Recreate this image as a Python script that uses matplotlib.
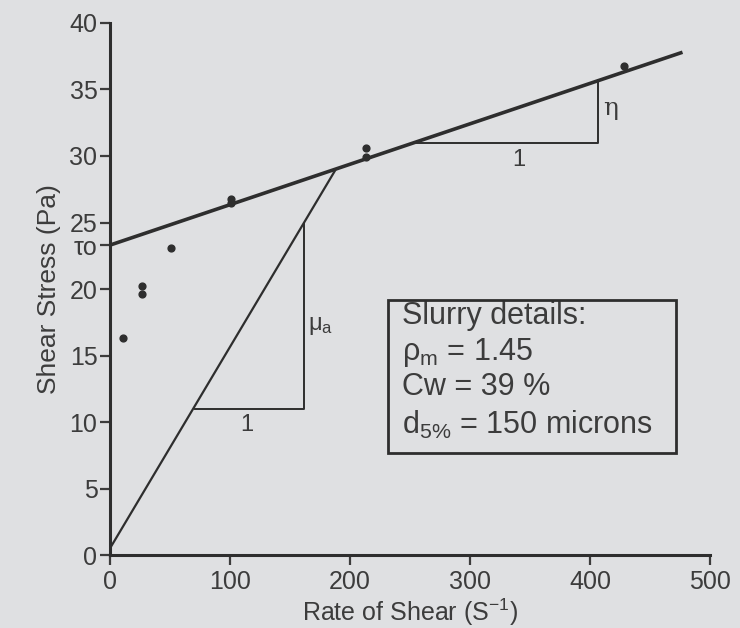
import matplotlib.pyplot as plt
from matplotlib.patches import Rectangle

plt.rcParams['font.family'] = ['Liberation Sans', 'DejaVu Sans']
plt.rcParams['mathtext.fontset'] = 'custom'
plt.rcParams['mathtext.rm'] = 'Liberation Sans'
plt.rcParams['mathtext.it'] = 'Liberation Sans'

# measured points (rate of shear, shear stress)
shear_rate = [11, 27, 27, 51, 101, 101, 213, 213, 428]
shear_stress = [16.3, 20.2, 19.6, 23.1, 26.5, 26.8, 30.6, 29.9, 36.8]

# Bingham fit line and apparent viscosity line
tau0 = 23.3
fit_x = [0, 477]
fit_y = [23.3, 37.8]
mu_x = [0, 187.5]
mu_y = [0.5, 28.9]

# slope triangles
eta_tri_x = [253, 407, 407]
eta_tri_y = [31.0, 31.0, 35.7]
mu_tri_x = [71, 162, 162]
mu_tri_y = [11.0, 11.0, 25.0]

x_ticks = [0, 100, 200, 300, 400, 500]
y_ticks = [0, 5, 10, 15, 20, 25, 30, 35, 40]

bg = '#dfe0e2'
ink = '#2e2e2e'
txt = '#3c3c3c'

fig = plt.figure(figsize=(7.4, 6.28), dpi=100, facecolor=bg)
ax = fig.add_axes([0.1486, 0.1162, 0.811, 0.8472])
ax.set_facecolor(bg)

ax.plot(fit_x, fit_y, color=ink, linewidth=2.6, solid_capstyle='butt')
ax.plot(mu_x, mu_y, color=ink, linewidth=1.6)
ax.plot(eta_tri_x, eta_tri_y, color=ink, linewidth=1.4)
ax.plot(mu_tri_x, mu_tri_y, color=ink, linewidth=1.4)
ax.scatter(shear_rate, shear_stress, s=24, color=ink, zorder=3)

ax.text(341, 30.5, '1', fontsize=17, color=txt, ha='center', va='top')
ax.text(411, 33.6, 'η', fontsize=18, color=txt, ha='left', va='center',
        family='DejaVu Serif')
ax.text(114, 10.6, '1', fontsize=17, color=txt, ha='center', va='top')
ax.text(165, 17.2, r'$\mu_\mathrm{a}$', fontsize=17, color=txt,
        ha='left', va='center')

ax.set_xlim(0, 500)
ax.set_ylim(0, 40)
ax.set_xticks(x_ticks)
ax.set_yticks(y_ticks + [tau0])
ax.set_yticklabels([str(v) for v in y_ticks] + ['τo'])
ax.tick_params(axis='both', labelsize=18, colors=txt, length=7, width=1.6)
ax.tick_params(axis='y', pad=2)
ax.tick_params(axis='x', pad=4)
for s in ['top', 'right']:
    ax.spines[s].set_visible(False)
for s in ['left', 'bottom']:
    ax.spines[s].set_linewidth(2.2)
    ax.spines[s].set_color(ink)

ax.set_xlabel('Rate of Shear (S$^{-1}$)', fontsize=18, color=txt, labelpad=2)
ax.set_ylabel('Shear Stress (Pa)', fontsize=19, color=txt, labelpad=6)

# slurry details box
ax.add_patch(Rectangle((232, 7.7), 240, 11.5, fill=False, edgecolor=ink,
                       linewidth=2, zorder=4))
box_lines = ['Slurry details:', r'$\mathrm{\rho_m}$ = 1.45', 'Cw = 39 %',
             r'$\mathrm{d_{5\%}}$ = 150 microns']
box_y = [18.0, 15.2, 12.6, 9.8]
for line, yy in zip(box_lines, box_y):
    ax.text(243, yy, line, fontsize=22, color=txt, ha='left', va='center')

fig.savefig('out.png', dpi=100, facecolor=bg)
